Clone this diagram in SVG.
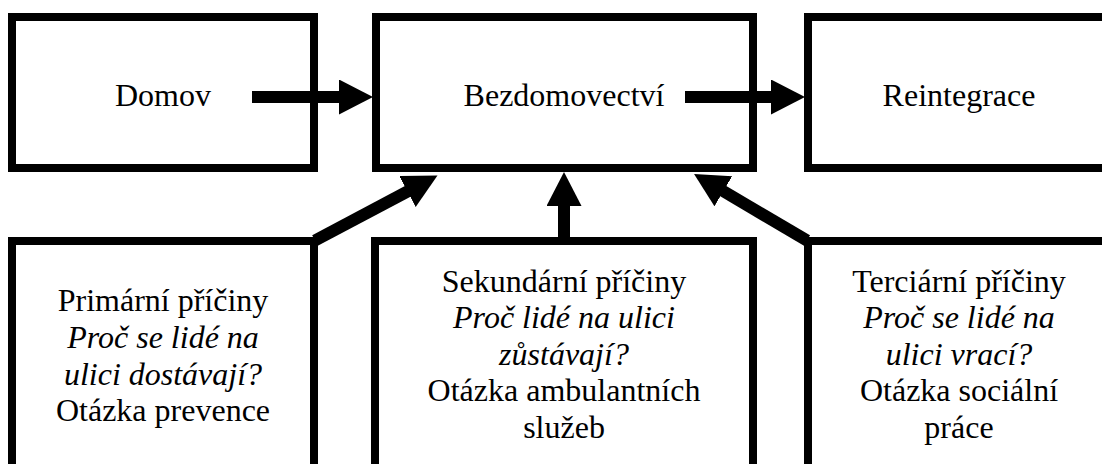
<svg xmlns="http://www.w3.org/2000/svg" width="1102" height="464" viewBox="0 0 1102 464">
<style>
.box{fill:#fff;stroke:#000;stroke-width:8}
.t{font-family:'Liberation Serif','Times New Roman','DejaVu Serif',serif;font-size:32px;fill:#000;text-anchor:middle}
.i{font-style:italic}
.c{stroke:#000;stroke-width:12;fill:none}
</style>
<defs>
<marker id="ah" markerUnits="userSpaceOnUse" markerWidth="36" markerHeight="36" refX="4" refY="17.5" orient="auto" viewBox="0 0 36 36">
<path d="M0,0 L34,17.5 L0,35 z" fill="#000"/>
</marker>
</defs>
<rect width="1102" height="464" fill="#fff"/>
<g id="domov">
<rect class="box" x="12" y="17" width="302" height="151"/>
<text class="t" font-family="Liberation Serif, serif" x="163" y="106">Domov</text>
</g>
<g id="bezdomovectvi">
<rect class="box" x="376" y="17" width="377" height="151"/>
<text class="t" font-family="Liberation Serif, serif" x="564" y="106">Bezdomovectví</text>
</g>
<g id="reintegrace">
<rect class="box" x="808" y="17" width="302" height="151"/>
<text class="t" font-family="Liberation Serif, serif" x="959" y="106">Reintegrace</text>
</g>
<g id="primarni" font-family="Liberation Serif, serif">
<rect class="box" x="12" y="241" width="302" height="260"/>
<text class="t" x="163" y="311">Primární příčiny</text>
<text class="t i" x="163" y="347.8">Proč se lidé na</text>
<text class="t i" x="163" y="384.6">ulici dostávají?</text>
<text class="t" x="163" y="421.4">Otázka prevence</text>
</g>
<g id="sekundarni" font-family="Liberation Serif, serif">
<rect class="box" x="375" y="241" width="378" height="260"/>
<text class="t" x="564" y="291.5">Sekundární příčiny</text>
<text class="t i" x="564" y="328">Proč lidé na ulici</text>
<text class="t i" x="564" y="364.5">zůstávají?</text>
<text class="t" x="564" y="401">Otázka ambulantních</text>
<text class="t" x="564" y="437.5">služeb</text>
</g>
<g id="terciarni" font-family="Liberation Serif, serif">
<rect class="box" x="808" y="241" width="302" height="260"/>
<text class="t" x="959" y="291.5">Terciární příčiny</text>
<text class="t i" x="959" y="328">Proč se lidé na</text>
<text class="t i" x="959" y="364.5">ulici vrací?</text>
<text class="t" x="959" y="401">Otázka sociální</text>
<text class="t" x="959" y="437.5">práce</text>
</g>
<g id="connectors">
<line class="c" x1="252" y1="97" x2="343" y2="97" marker-end="url(#ah)"/>
<line class="c" x1="685" y1="97" x2="775" y2="97" marker-end="url(#ah)"/>
<line class="c" x1="564" y1="241" x2="564" y2="202" marker-end="url(#ah)"/>
<line class="c" x1="315" y1="240.5" x2="411" y2="189.6" marker-end="url(#ah)"/>
<line class="c" x1="807" y1="240.5" x2="719.9" y2="189.2" marker-end="url(#ah)"/>
</g>
</svg>
